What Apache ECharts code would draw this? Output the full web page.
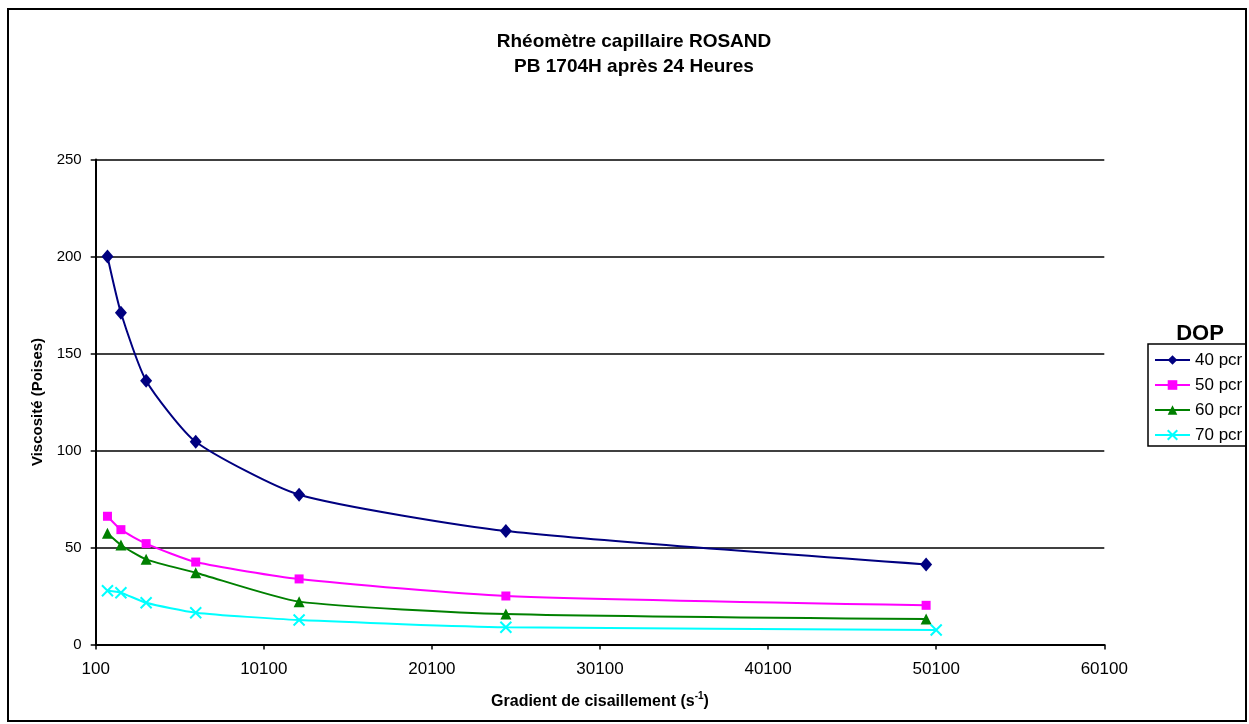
<!DOCTYPE html>
<html>
<head>
<meta charset="utf-8">
<script src="https://cdn.jsdelivr.net/npm/echarts@6/dist/echarts.min.js"></script>
<style>
html,body{margin:0;padding:0;background:#fff;}
#chart{width:1249px;height:724px;}
</style>
</head>
<body>
<div id="chart"></div>
<script>
// ---- data ----
const titleLines = ['Rhéomètre capillaire ROSAND', 'PB 1704H après 24 Heures'];
const seriesNames = ['40 pcr', '50 pcr', '60 pcr', '70 pcr'];
const shearRates = [800, 1600, 3100, 6050, 12200, 24500, 49500];
const shearRates70 = [800, 1600, 3100, 6050, 12200, 24500, 50100];
const visc40 = [200, 171, 136, 104.5, 77.2, 58.5, 41.3];
const visc50 = [66.1, 59.2, 52.0, 42.5, 33.8, 25.0, 20.2];
const visc60 = [57.3, 51.3, 43.9, 37.0, 22.1, 15.7, 13.1];
const visc70 = [27.7, 26.7, 21.5, 16.4, 12.6, 8.9, 7.5];
const xTicks = {min: 100, max: 60100, interval: 10000};
const yTicks = {min: 0, max: 250, interval: 50};

const FONT = '"Liberation Sans", Arial, sans-serif';
const pairs = (xs, ys) => xs.map((x, i) => [x, ys[i]]);

const chart = echarts.init(document.getElementById('chart'), null, {renderer: 'canvas'});

const mkSeries = (name, xs, ys, color, symbol, size, extra) => Object.assign({
  name: name,
  type: 'line',
  data: pairs(xs, ys),
  smooth: 0.2,
  symbol: symbol,
  symbolSize: size,
  lineStyle: {color: color, width: 2},
  itemStyle: {color: color},
  emphasis: {disabled: true}
}, extra || {});

chart.setOption({
  animation: false,
  backgroundColor: '#ffffff',
  title: [{
    text: titleLines.join('\n'),
    left: 629, top: 24, textAlign: 'center',
    textStyle: {fontFamily: FONT, fontSize: 19, fontWeight: 'bold', color: '#000', lineHeight: 25}
  }, {
    text: 'DOP',
    left: 1195, top: 318, textAlign: 'center',
    textStyle: {fontFamily: FONT, fontSize: 22, fontWeight: 'bold', color: '#000'}
  }],
  graphic: [{
    type: 'rect',
    shape: {x: 8, y: 9, width: 1238, height: 712},
    style: {fill: 'none', stroke: '#000', lineWidth: 2},
    silent: true, z: 100
  }],
  legend: {
    data: seriesNames,
    orient: 'vertical',
    left: 1148, top: 344,
    padding: [6, 4, 1, 6],
    itemWidth: 35, itemHeight: 12, itemGap: 5,
    borderColor: '#000', borderWidth: 1.5,
    textStyle: {fontFamily: FONT, fontSize: 17, color: '#000', lineHeight: 20}
  },
  grid: {left: 95.7, right: 144.7, top: 159.5, bottom: 79.5, containLabel: false},
  xAxis: {
    type: 'value',
    min: xTicks.min, max: xTicks.max, interval: xTicks.interval,
    name: '{b|Gradient de cisaillement (s}{sup|-1}{b|)}',
    nameLocation: 'middle', nameGap: 47,
    nameTextStyle: {
      rich: {
        b: {fontFamily: FONT, fontSize: 16, fontWeight: 'bold', color: '#000', lineHeight: 20},
        sup: {fontFamily: FONT, fontSize: 10, fontWeight: 'bold', color: '#000', verticalAlign: 'top', lineHeight: 12}
      }
    },
    axisLine: {show: true, onZero: false, lineStyle: {color: '#000', width: 2}},
    axisTick: {show: true, inside: false, length: 5, lineStyle: {color: '#000', width: 1.5}},
    axisLabel: {fontFamily: FONT, fontSize: 17, color: '#000', margin: 16, showMinLabel: true, showMaxLabel: true,
      formatter: v => String(v)},
    splitLine: {show: false}
  },
  yAxis: {
    type: 'value',
    min: yTicks.min, max: yTicks.max, interval: yTicks.interval,
    name: 'Viscosité (Poises)',
    nameLocation: 'middle', nameGap: 47,
    nameTextStyle: {fontFamily: FONT, fontSize: 15, fontWeight: 'bold', color: '#000'},
    axisLine: {show: true, lineStyle: {color: '#000', width: 2}},
    axisTick: {show: true, inside: false, length: 5, lineStyle: {color: '#000', width: 1.5}},
    axisLabel: {fontFamily: FONT, fontSize: 15, color: '#000', margin: 14, formatter: v => String(v)},
    splitLine: {show: true, lineStyle: {color: '#000', width: 1.5}}
  },
  series: [
    mkSeries(seriesNames[0], shearRates, visc40, '#000080', 'diamond', [12, 14]),
    mkSeries(seriesNames[1], shearRates, visc50, '#FF00FF', 'rect', 9),
    mkSeries(seriesNames[2], shearRates, visc60, '#008000', 'triangle', 11),
    mkSeries(seriesNames[3], shearRates70, visc70, '#00FFFF', 'path://M0,0L10,10M10,0L0,10', 11,
      {itemStyle: {color: '#00FFFF', borderColor: '#00FFFF', borderWidth: 2}})
  ]
});
</script>
</body>
</html>
